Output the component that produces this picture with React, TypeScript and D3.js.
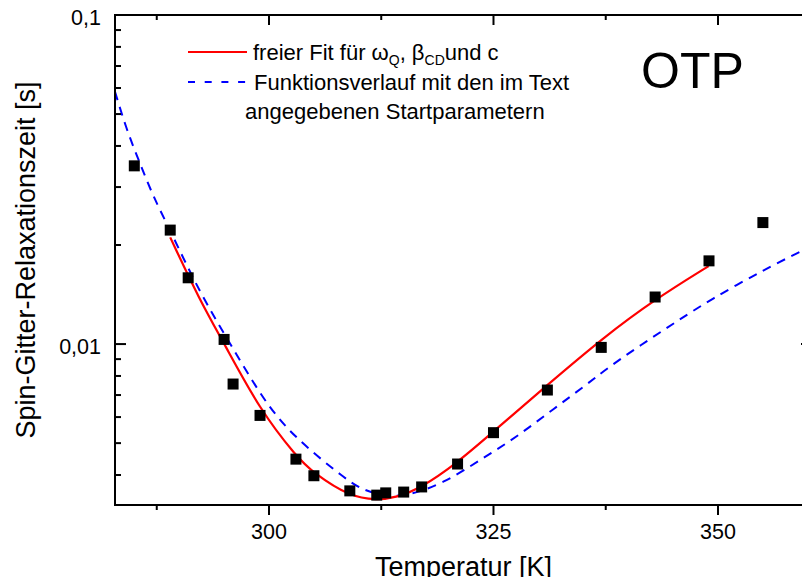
import React from "react";
import * as d3 from "d3";

// Measured data (Temperatur [K], Spin-Gitter-Relaxationszeit [s])
const dataT = [285, 289, 291, 295, 296, 299, 303, 305, 309, 312, 313, 315, 317, 321, 325, 331, 337, 343, 349, 355];
const dataTau = [0.0348, 0.0222, 0.0159, 0.01033, 0.00756, 0.00607, 0.00447, 0.00398, 0.00358, 0.003475, 0.00353, 0.00355, 0.00368, 0.00432, 0.00538, 0.00725, 0.00977, 0.0139, 0.0179, 0.0234];

// Free fit (red)
const fitT = [289.0, 292.24, 295.0, 299.0, 303.08, 304.93, 309.02, 311.99, 314.22, 316.82, 320.9, 324.98, 330.99, 337.23, 342.98, 348.96];
const fitTau = [0.0211, 0.01367, 0.01005, 0.0063, 0.004544, 0.004063, 0.003435, 0.003356, 0.00342, 0.003643, 0.004339, 0.00542, 0.007507, 0.010466, 0.01367, 0.01726];

// Start-parameter curve (blue dashed)
const startT = [282.85, 284.15, 285.63, 287.11, 288.98, 292.32, 295.66, 299.37, 302.71, 308.65, 310.5, 313.1, 315.7, 319.4, 323.5, 327.58, 331.66, 335.56, 337.53, 341.39, 345.29, 349.19, 355.05, 359.13, 360.47];
const startTau = [0.05845, 0.04471, 0.03541, 0.02804, 0.02221, 0.01426, 0.01005, 0.006757, 0.005227, 0.003861, 0.003598, 0.003435, 0.003475, 0.003773, 0.00444, 0.005217, 0.006345, 0.007597, 0.008395, 0.009931, 0.01166, 0.01367, 0.01678, 0.01908, 0.01986];

const xMajor = [300, 325, 350];
const xMinor = [287.5, 312.5, 337.5];
const xTickLabels = ["300", "325", "350"];
const yMajor = [0.01, 0.1];
const yTickLabels = ["0,01", "0,1"];
const yMinor = [0.004, 0.005, 0.006, 0.007, 0.008, 0.009, 0.02, 0.03, 0.04, 0.05, 0.06, 0.07, 0.08, 0.09];

const xDomain = [282.85, 360.47];
const yDomain = [0.003243, 0.1];

const W = 802;
const H = 577;
const L = 115, R = 812, T = 15, B = 505;
const FONT = "'Liberation Sans', Arial, sans-serif";

export default function App() {
  const x = d3.scaleLinear().domain(xDomain).range([L, R]);
  const y = d3.scaleLog().domain(yDomain).range([B, T]);

  const line = d3
    .line<[number, number]>()
    .x((d) => x(d[0]))
    .y((d) => y(d[1]))
    .curve(d3.curveBasis);

  const fitPath = line(fitT.map((t, i) => [t, fitTau[i]]) as [number, number][]) || "";
  const startPath = line(startT.map((t, i) => [t, startTau[i]]) as [number, number][]) || "";

  const sq = 11;

  return (
    <svg
      width={W}
      height={H}
      style={{ position: "absolute", left: 0, top: 0, background: "#fff" }}
      fontFamily={FONT}
    >
      <defs>
        <clipPath id="plotclip">
          <rect x={L} y={T} width={R - L} height={B - T} />
        </clipPath>
      </defs>
      <rect x={0} y={0} width={W} height={H} fill="#fff" />

      {/* curves */}
      <g clipPath="url(#plotclip)">
        <path d={startPath} fill="none" stroke="#0000ff" strokeWidth={2} strokeDasharray="9,7" />
        <path d={fitPath} fill="none" stroke="#ff0000" strokeWidth={2.2} />
      </g>

      {/* data squares */}
      {dataT.map((t, i) => (
        <rect
          key={i}
          x={x(t) - sq / 2}
          y={y(dataTau[i]) - sq / 2}
          width={sq}
          height={sq}
          fill="#000"
        />
      ))}

      {/* axes lines */}
      <g stroke="#000" strokeWidth={2} fill="none">
        <line x1={L} y1={T} x2={L} y2={B + 1} />
        <line x1={L - 1} y1={B} x2={R} y2={B} />
        <line x1={L - 1} y1={T} x2={R} y2={T} />
        <line x1={R} y1={T} x2={R} y2={B} />
        {xMajor.map((t) => (
          <line key={"bM" + t} x1={x(t)} x2={x(t)} y1={B} y2={B + 10} />
        ))}
        {xMinor.map((t) => (
          <line key={"bm" + t} x1={x(t)} x2={x(t)} y1={B} y2={B + 5} />
        ))}
        {xMajor.map((t) => (
          <line key={"tM" + t} x1={x(t)} x2={x(t)} y1={T} y2={T + 10} />
        ))}
        {xMinor.map((t) => (
          <line key={"tm" + t} x1={x(t)} x2={x(t)} y1={T} y2={T + 5} />
        ))}
        {yMajor.map((v) => (
          <line key={"lM" + v} x1={L} x2={L + 11} y1={y(v)} y2={y(v)} />
        ))}
        {yMinor.map((v) => (
          <line key={"lm" + v} x1={L} x2={L + 6} y1={y(v)} y2={y(v)} />
        ))}
        {yMajor.map((v) => (
          <line key={"rM" + v} x1={R} x2={R - 11} y1={y(v)} y2={y(v)} />
        ))}
        {yMinor.map((v) => (
          <line key={"rm" + v} x1={R} x2={R - 6} y1={y(v)} y2={y(v)} />
        ))}
      </g>

      {/* tick labels */}
      {xMajor.map((t, i) => (
        <text key={"xl" + t} x={x(t)} y={539} fontSize={21.5} textAnchor="middle" fill="#000">
          {xTickLabels[i]}
        </text>
      ))}
      {yMajor.map((v, i) => (
        <text key={"yl" + v} x={101} y={y(v) + 10} fontSize={21.5} textAnchor="end" fill="#000">
          {yTickLabels[i]}
        </text>
      ))}

      {/* axis titles */}
      <text x={(L + R) / 2} y={576} fontSize={27} textAnchor="middle" fill="#000">
        Temperatur [K]
      </text>
      <text
        transform={`translate(35, ${(T + B) / 2}) rotate(-90)`}
        fontSize={27}
        textAnchor="middle"
        fill="#000"
      >
        Spin-Gitter-Relaxationszeit [s]
      </text>

      {/* OTP label */}
      <text x={641} y={88} fontSize={50} fill="#000">
        OTP
      </text>

      {/* legend */}
      <line x1={188} x2={247} y1={52} y2={52} stroke="#ff0000" strokeWidth={2.2} />
      <line x1={188} x2={247} y1={82} y2={82} stroke="#0000ff" strokeWidth={2} strokeDasharray="7,9.7" />
      <text x={253} y={60} fontSize={22} fill="#000">
        freier Fit für ω
        <tspan fontSize={14} dy={5}>Q</tspan>
        <tspan dy={-5}>, β</tspan>
        <tspan fontSize={14} dy={5}>CD</tspan>
        <tspan dy={-5}>und c</tspan>
      </text>
      <text x={254} y={89.5} fontSize={22} fill="#000">
        Funktionsverlauf mit den im Text
      </text>
      <text x={245} y={118.5} fontSize={22} fill="#000">
        angegebenen Startparametern
      </text>
    </svg>
  );
}
